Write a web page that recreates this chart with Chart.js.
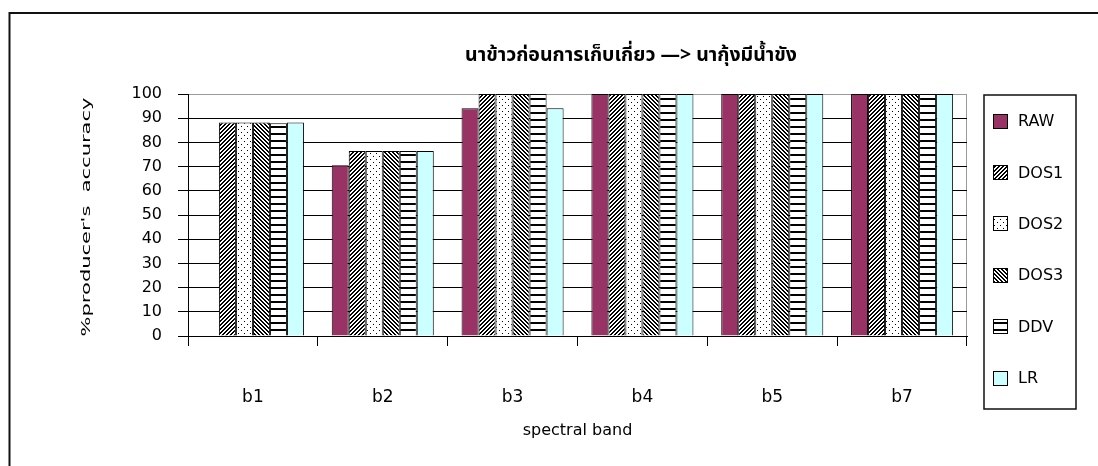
<!DOCTYPE html>
<html>
<head>
<meta charset="utf-8">
<script src="https://cdn.jsdelivr.net/npm/chart.js@4.4.0/dist/chart.umd.min.js"></script>
<style>
  html, body { margin: 0; padding: 0; background: #fff; }
  #wrap { width: 1098px; height: 466px; position: relative; }
</style>
</head>
<body>
<div id="wrap"><canvas id="c" width="1098" height="466"></canvas></div>
<script>
// ---- data ----
const categories = ['b1', 'b2', 'b3', 'b4', 'b5', 'b7'];
const seriesNames = ['RAW', 'DOS1', 'DOS2', 'DOS3', 'DDV', 'LR'];
const rawValues  = [0, 70.59, 94.12, 100, 100, 100];
const dos1Values = [88.24, 76.47, 100, 100, 100, 100];
const dos2Values = [88.24, 76.47, 100, 100, 100, 100];
const dos3Values = [88.24, 76.47, 100, 100, 100, 100];
const ddvValues  = [87.9, 76.47, 100, 100, 100, 100];
const lrValues   = [88.24, 76.47, 94.12, 100, 100, 100];
const yTicks = [0, 10, 20, 30, 40, 50, 60, 70, 80, 90, 100];
const chartTitle = 'นาข้าวก่อนการเก็บเกี่ยว —> นากุ้งมีน้ำขัง';
const yTitle = "%producer's  accuracy";
const xTitle = 'spectral band';

// ---- fill patterns (black ink on white) ----
function pixelPattern(w, h, isInk) {
  const c = document.createElement('canvas');
  c.width = w; c.height = h;
  const g = c.getContext('2d');
  g.fillStyle = '#fff';
  g.fillRect(0, 0, w, h);
  g.fillStyle = '#000';
  for (let y = 0; y < h; y++) {
    for (let x = 0; x < w; x++) {
      if (isInk(x, y)) g.fillRect(x, y, 1, 1);
    }
  }
  return g.createPattern(c, 'repeat');
}
const upDiagonal   = pixelPattern(4, 4, (x, y) => ((x + y) % 4) < 2);
const dots         = pixelPattern(6, 6, (x, y) => (x === 1 && y === 0) || (x === 4 && y === 3));
const downDiagonal = pixelPattern(4, 4, (x, y) => ((x - y + 8) % 4) < 2);
const hLines       = pixelPattern(7, 7, (x, y) => y < 2);

const fills = ['#993366', upDiagonal, dots, downDiagonal, hLines, '#CCFFFF'];
const seriesValues = [rawValues, dos1Values, dos2Values, dos3Values, ddvValues, lrValues];

const datasets = seriesNames.map((name, i) => ({
  label: name,
  data: seriesValues[i],
  backgroundColor: fills[i],
  borderColor: '#000',
  borderWidth: 1
}));

// ---- decorations: frame, heading, rotated axis caption, boxed legend ----
const decorations = {
  id: 'decorations',
  beforeDraw(chart) {
    const ctx = chart.ctx;
    ctx.save();
    ctx.fillStyle = '#fff';
    ctx.fillRect(0, 0, chart.width, chart.height);
    ctx.strokeStyle = '#111';
    ctx.lineWidth = 2;
    ctx.beginPath();
    ctx.moveTo(9.5, chart.height);
    ctx.lineTo(9.5, 13);
    ctx.lineTo(chart.width, 13);
    ctx.stroke();
    ctx.restore();
  },
  afterDraw(chart) {
    const ctx = chart.ctx;
    ctx.save();

    // heading
    ctx.fillStyle = '#000';
    ctx.font = 'bold 19.5px "Noto Sans Thai", "Tahoma", "DejaVu Sans", sans-serif';
    ctx.textAlign = 'center';
    ctx.textBaseline = 'middle';
    ctx.fillText(chartTitle, 631, 57);

    // y axis caption
    ctx.save();
    ctx.translate(87, 217);
    ctx.rotate(-Math.PI / 2);
    ctx.scale(1.75, 1);
    ctx.font = '12px "DejaVu Sans", sans-serif';
    ctx.textAlign = 'center';
    ctx.textBaseline = 'middle';
    ctx.fillText(yTitle, 0, 0);
    ctx.restore();

    // legend box
    ctx.strokeStyle = '#111';
    ctx.lineWidth = 1.5;
    ctx.strokeRect(984, 95, 92, 314);
    ctx.font = '16px "DejaVu Sans", sans-serif';
    ctx.textAlign = 'left';
    ctx.textBaseline = 'middle';
    chart.data.datasets.forEach((ds, i) => {
      const cy = 121 + i * 51.4;
      ctx.fillStyle = ds.backgroundColor;
      ctx.fillRect(993, Math.round(cy - 7.5), 15, 15);
      ctx.strokeStyle = '#000';
      ctx.lineWidth = 1;
      ctx.strokeRect(993.5, Math.round(cy - 7.5) + 0.5, 14, 14);
      ctx.fillStyle = '#000';
      ctx.fillText(ds.label, 1018, cy + 1);
    });

    ctx.restore();
  }
};

new Chart(document.getElementById('c').getContext('2d'), {
  type: 'bar',
  data: { labels: categories, datasets },
  plugins: [decorations],
  options: {
    responsive: false,
    animation: false,
    devicePixelRatio: 1,
    layout: { padding: { left: 128, right: 131, top: 94, bottom: 22 } },
    datasets: { bar: { categoryPercentage: 0.786, barPercentage: 1 } },
    plugins: {
      legend: { display: false },
      title: { display: false },
      tooltip: { enabled: false }
    },
    scales: {
      x: {
        grid: {
          offset: true,
          drawOnChartArea: true,
          color: c => (c.type === 'scale' ? '#9a9a9a' : 'rgba(0,0,0,0)'),
          tickColor: '#000',
          tickLength: 10,
          lineWidth: 1
        },
        border: { color: '#000', width: 1 },
        ticks: { font: { family: 'DejaVu Sans', size: 17 }, color: '#000', padding: 41 },
        title: {
          display: true,
          text: xTitle,
          color: '#000',
          font: { family: 'DejaVu Sans', size: 16 },
          padding: { top: 4, bottom: 4 }
        },
        afterFit: s => { s.height = 108; }
      },
      y: {
        min: 0,
        max: 100,
        afterBuildTicks: s => { s.ticks = yTicks.map(v => ({ value: v })); },
        ticks: { font: { family: 'DejaVu Sans', size: 16 }, color: '#000', padding: 16 },
        grid: {
          color: c => (c.tick && c.tick.value === 100 ? '#9a9a9a' : '#000'),
          tickColor: '#000',
          tickLength: 10,
          lineWidth: 1
        },
        border: { color: '#000', width: 1 },
        afterFit: s => { s.width = 60; }
      }
    }
  }
});
</script>
</body>
</html>
